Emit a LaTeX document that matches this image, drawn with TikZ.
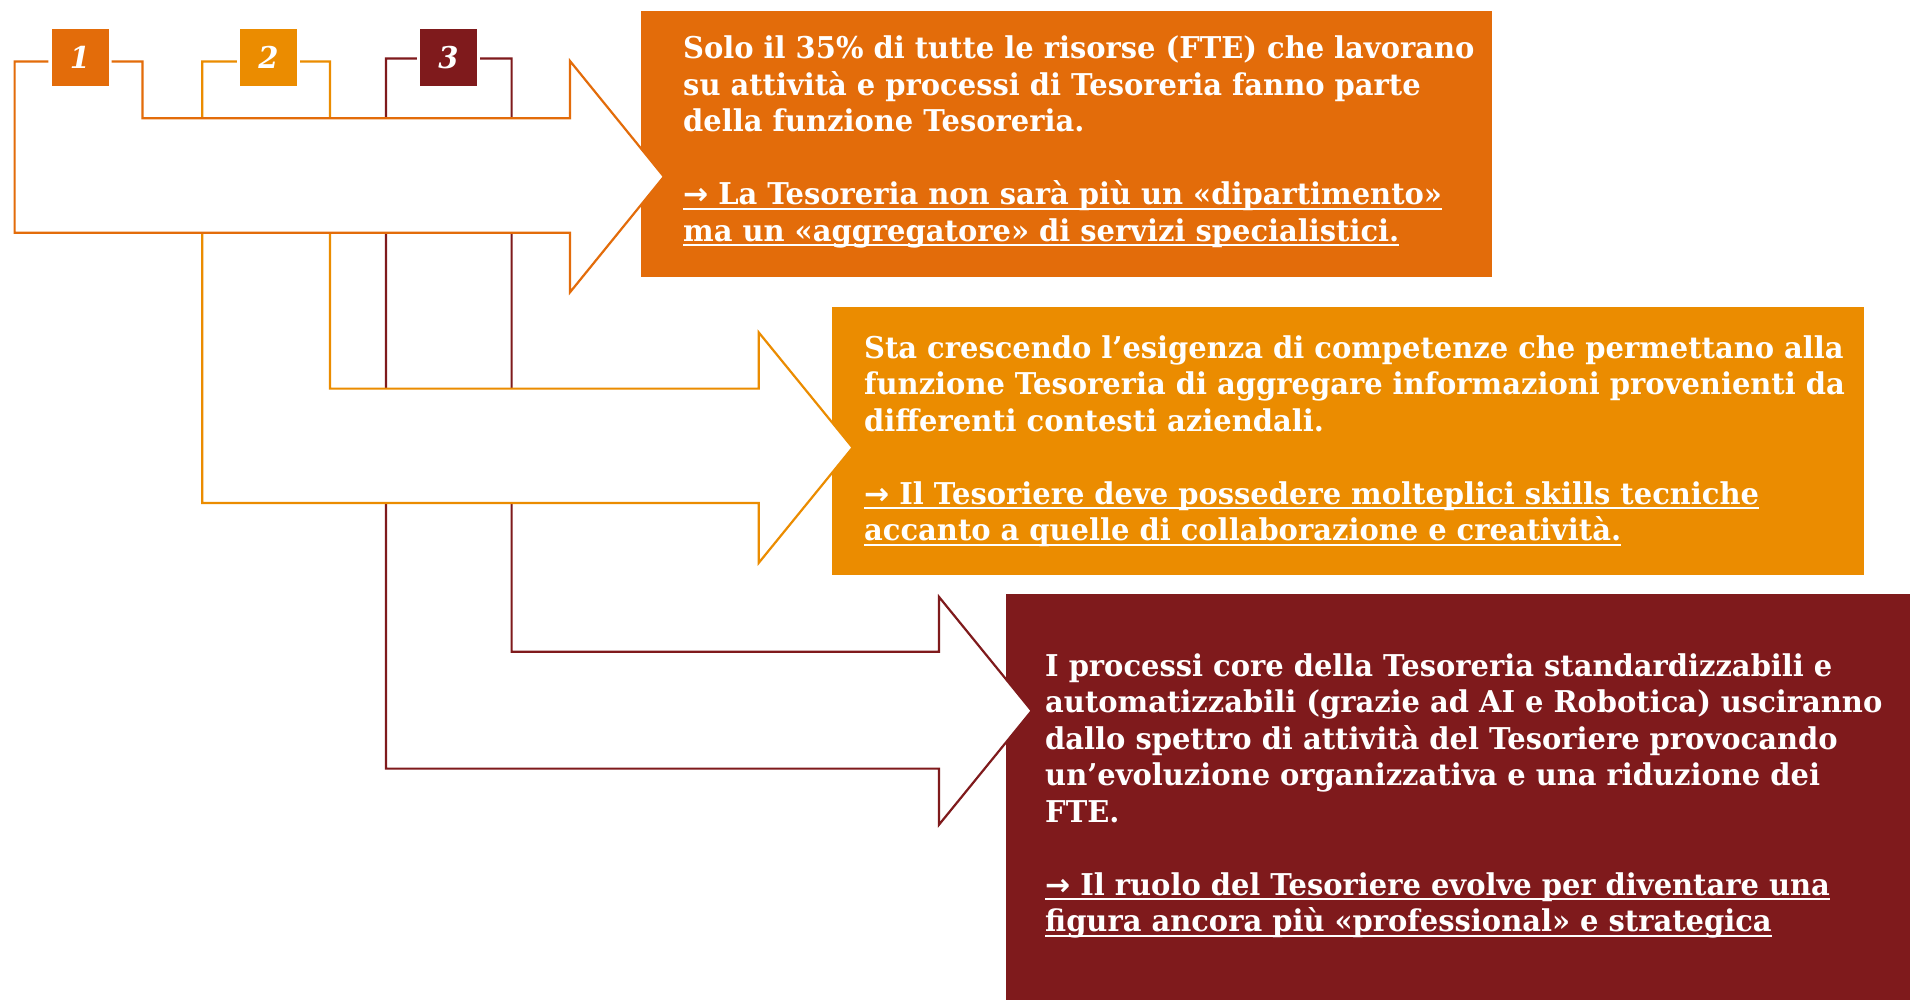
\documentclass[tikz,border=0pt]{standalone}
\usepackage{fontspec}
\setmainfont{DejaVu Serif}
\newfontfamily\txtfam[FakeStretch=0.965]{DejaVu Serif}
\newfontfamily\arrowfam{DejaVu Sans}
\definecolor{cone}{HTML}{E36C0A}
\definecolor{ctwo}{HTML}{EB8C00}
\definecolor{cthree}{HTML}{7F1A1C}
\newsavebox\ulbox
\newcommand{\uln}[1]{\leavevmode\sbox\ulbox{#1}\rlap{\rule[-5pt]{\wd\ulbox}{2pt}}\usebox\ulbox}
\newcommand{\arr}{{\arrowfam →}}
\begin{document}
\begin{tikzpicture}[x=1pt,y=-1pt,
  numbox/.style={minimum width=57pt,minimum height=57pt,inner sep=0pt,text=white,
    font={\txtfam\bfseries\itshape\fontsize{30pt}{36pt}\selectfont}},
  infobox/.style={anchor=north west,inner sep=0pt,draw=none},
  infotext/.style={anchor=base west,inner sep=0pt,text=white,text width=1100pt,align=left,
    font={\txtfam\bfseries\fontsize{30pt}{36.5pt}\selectfont}},
  outline/.style={line width=2.2pt,line join=miter}]
\useasboundingbox (0,0) rectangle (1910,1000);
\fill[white] (0,0) rectangle (1910,1000);
% text boxes
\node[infobox,fill=cone,minimum width=851pt,minimum height=266pt] (b1) at (641,11) {};
\node[infobox,fill=ctwo,minimum width=1032pt,minimum height=268pt] (b2) at (832,307) {};
\node[infobox,fill=cthree,minimum width=904pt,minimum height=406pt] (b3) at (1006,594) {};
% number box places (boxes are filled later, on top of the arrows)
\path (80,57.5) node[numbox] (n1) {};
\path (268.5,57.5) node[numbox] (n2) {};
\path (448.5,57.5) node[numbox] (n3) {};
% arrow 3
\fill[white] ([shift={(-3,1)}]n3.west) -- (386,58.5) -- (386,768.6) -- (939,768.6) -- (939,824.7)
  -- (1031.7,710.8) -- (939,596.9) -- (939,651.7) -- (511.6,651.7) -- (511.6,58.5)
  -- ([shift={(3,1)}]n3.east) -- cycle;
\draw[outline,cthree] ([shift={(-3,1)}]n3.west) -- (386,58.5) -- (386,768.6) -- (939,768.6) -- (939,824.7)
  -- (1031.7,710.8) -- (939,596.9) -- (939,651.7) -- (511.6,651.7) -- (511.6,58.5)
  -- ([shift={(3,1)}]n3.east);
% arrow 2
\fill[white] ([shift={(-3,4)}]n2.west) -- (202.2,61.5) -- (202.2,503) -- (758.8,503) -- (758.8,562.8)
  -- (852.6,447.6) -- (758.8,332.5) -- (758.8,388.6) -- (330,388.6) -- (330,61.5)
  -- ([shift={(3,4)}]n2.east) -- cycle;
\draw[outline,ctwo] ([shift={(-3,4)}]n2.west) -- (202.2,61.5) -- (202.2,503) -- (758.8,503) -- (758.8,562.8)
  -- (852.6,447.6) -- (758.8,332.5) -- (758.8,388.6) -- (330,388.6) -- (330,61.5)
  -- ([shift={(3,4)}]n2.east);
% arrow 1
\fill[white] ([shift={(-3,4)}]n1.west) -- (14.6,61.5) -- (14.6,232.7) -- (570,232.7) -- (570,292.3)
  -- (663.9,176.7) -- (570,61) -- (570,118.2) -- (142.5,118.2) -- (142.5,61.5)
  -- ([shift={(3,4)}]n1.east) -- cycle;
\draw[outline,cone] ([shift={(-3,4)}]n1.west) -- (14.6,61.5) -- (14.6,232.7) -- (570,232.7) -- (570,292.3)
  -- (663.9,176.7) -- (570,61) -- (570,118.2) -- (142.5,118.2) -- (142.5,61.5)
  -- ([shift={(3,4)}]n1.east);
% number boxes on top
\node[numbox,fill=cone] (m1) at (n1) {1};
\node[numbox,fill=ctwo] (m2) at (n2) {2};
\node[numbox,fill=cthree] (m3) at (n3) {3};
% texts
\node[infotext] (t1) at (683,59) {Solo il 35\% di tutte le risorse (FTE) che lavorano\\
su attività e processi di Tesoreria fanno parte\\
della funzione Tesoreria.\\[36.5pt]
\uln{\arr{} La Tesoreria non sarà più un «dipartimento»}\\
\uln{ma un «aggregatore» di servizi specialistici.}};
\node[infotext] (t2) at (864,358) {Sta crescendo l’esigenza di competenze che permettano alla\\
funzione Tesoreria di aggregare informazioni provenienti da\\
differenti contesti aziendali.\\[36.5pt]
\uln{\arr{} Il Tesoriere deve possedere molteplici skills tecniche}\\
\uln{accanto a quelle di collaborazione e creatività.}};
\node[infotext] (t3) at (1045,676) {I processi core della Tesoreria standardizzabili e\\
automatizzabili (grazie ad AI e Robotica) usciranno\\
dallo spettro di attività del Tesoriere provocando\\
un’evoluzione organizzativa e una riduzione dei\\
FTE.\\[36.5pt]
\uln{\arr{} Il ruolo del Tesoriere evolve per diventare una}\\
\uln{figura ancora più «professional» e strategica}};
\end{tikzpicture}
\end{document}
